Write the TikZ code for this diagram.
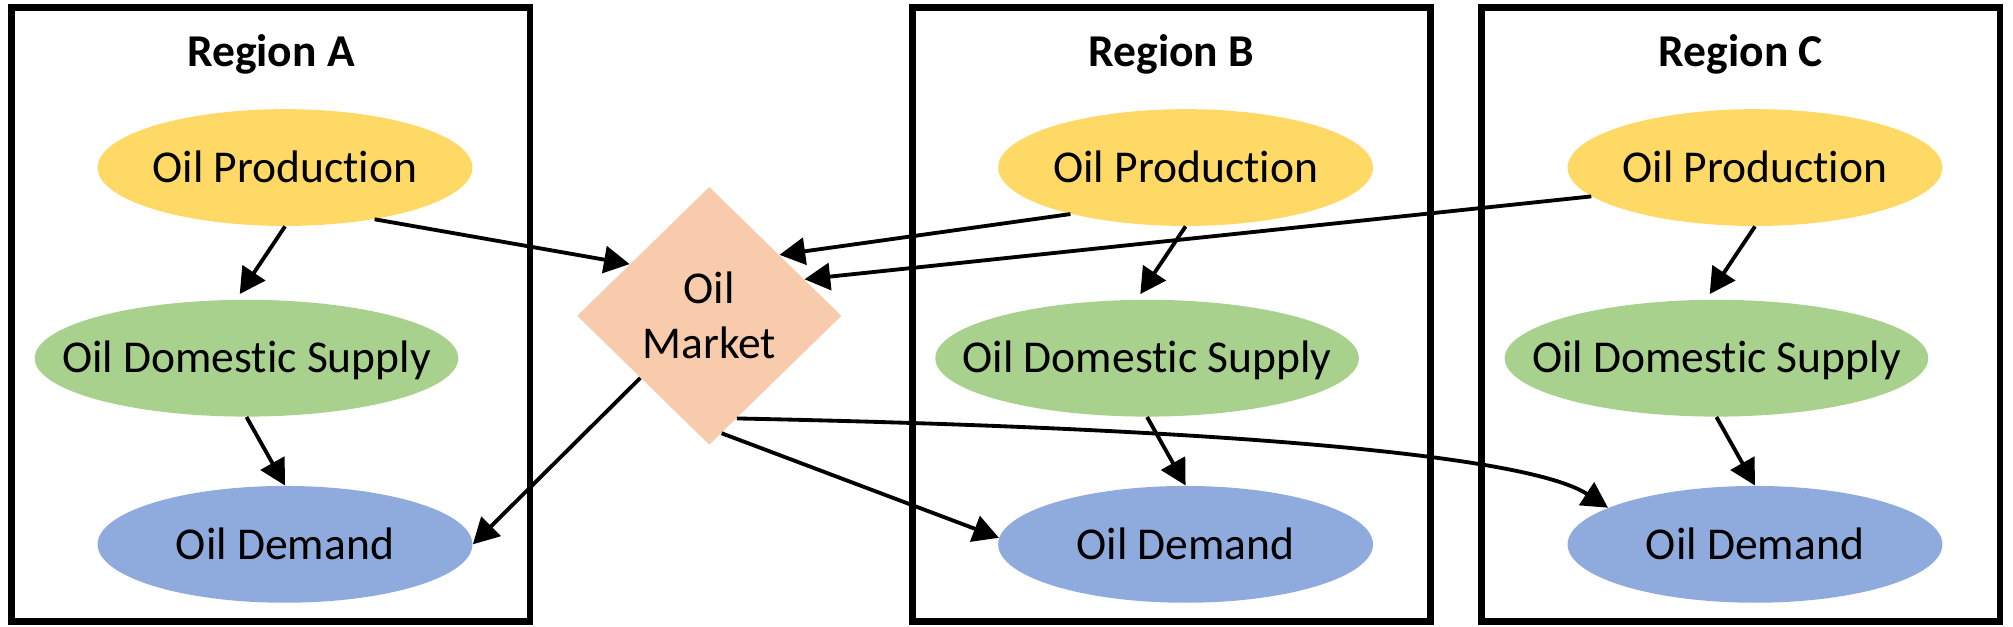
\documentclass[tikz,border=0pt]{standalone}
\usepackage{fontspec}
\setmainfont{Carlito}[Ligatures=NoCommon]
\usepackage{tikz}
\usetikzlibrary{
    arrows.meta,
    positioning,
    shapes.geometric
}
\definecolor{prodYellow}{RGB}{255,217,102}
\definecolor{supGreen}{RGB}{169,209,142}
\definecolor{demBlue}{RGB}{143,170,220}
\definecolor{mktPeach}{RGB}{248,203,173}
\tikzset{
  region/.style  = {draw, line width=2.95pt, minimum width=8.08cm,
                    minimum height=9.56cm, inner sep=0pt},
  rtitle/.style  = {font=\bfseries\fontsize{20.2}{24}\selectfont,
                    text height=13pt, text depth=0pt, inner sep=0pt},
  oval/.style    = {ellipse, inner ysep=0pt, inner xsep=-1cm,
                    minimum height=1.82cm,
                    font=\fontsize{20.2}{24}\selectfont,
                    text height=13pt, text depth=0pt},
  prod/.style    = {oval, fill=prodYellow, minimum width=5.84cm},
  supply/.style  = {oval, fill=supGreen, minimum width=6.6cm},
  demand/.style  = {oval, fill=demBlue, minimum width=5.84cm}
}

\begin{document}
\begin{tikzpicture}[
  x=0.02cm, y=-0.02cm,
  mkt/.style={
    diamond,
    fill=mktPeach,
    minimum width=4.12cm,
    minimum height=4.02cm,
    inner sep=0pt,
    align=center,
    font=\fontsize{20.2}{24.4}\selectfont
  },
  arr/.style={
    -{Triangle[length=0.4cm, width=0.42cm]},
    line width=1.7pt
  }
]
\useasboundingbox (0,0) rectangle (1568,488);

%% --- Region frames ---
\node[region] (boxA) at (211,245) {};
\node[region] (boxB) at (912.5,245) {};
\node[region] (boxC) at (1356,245) {};

\node[rtitle] (titleA) at (211,40) {Region A};
\node[rtitle] (titleB) at (912.5,40) {Region B};
\node[rtitle] (titleC) at (1356,40) {Region C};

%% --- Region A ---
\node[prod]   (prodA) at (222,130.5) {Oil Production};
\node[supply] (supA)  at (192,279)   {Oil Domestic Supply};
\node[demand] (demA)  at (222,424)   {Oil Demand};

%% --- Region B ---
\node[prod]   (prodB) at (923.5,130.5) {Oil Production};
\node[supply] (supB)  at (893.5,279)   {Oil Domestic Supply};
\node[demand] (demB)  at (923.5,424)   {Oil Demand};

%% --- Region C ---
\node[prod]   (prodC) at (1367,130.5) {Oil Production};
\node[supply] (supC)  at (1337,279)   {Oil Domestic Supply};
\node[demand] (demC)  at (1367,424)   {Oil Demand};

%% --- Market ---
\node[mkt] (market) at (552.5,246) {Oil\\Market};

%% --- arrows inside the regions ---
\draw[arr, shorten >=1mm] (prodA.south) -- (supA.100);
\draw[arr] (supA.south) -- (demA.north);
\draw[arr, shorten >=1mm] (prodB.south) -- (supB.100);
\draw[arr] (supB.south) -- (demB.north);
\draw[arr, shorten >=1mm] (prodC.south) -- (supC.100);
\draw[arr] (supC.south) -- (demC.north);

%% --- arrows to and from the market ---
\draw[arr] (prodA.-30) -- (market.147);
\draw[arr] (prodB.202) -- (market.41);
\draw[arr] (prodC.190) -- (market.21);
\draw[arr] (market.222) -- (demA.east);
\draw[arr] (market.-84) -- (demB.178);
\draw[arr]
  (market.-75)
  .. controls +(391,8) and +(-61,-40) ..  % long bend to region C
  (demC.166);

\end{tikzpicture}
\end{document}
